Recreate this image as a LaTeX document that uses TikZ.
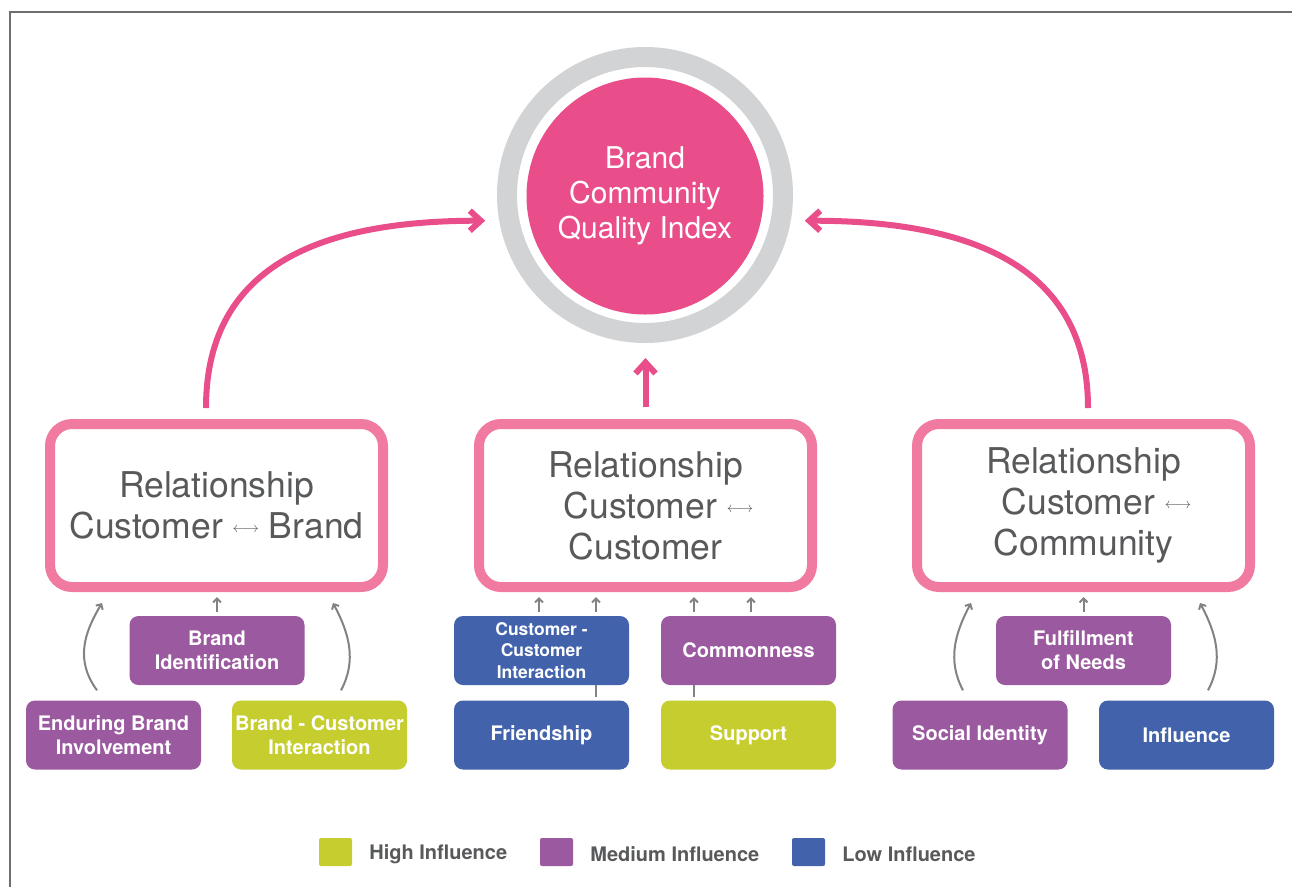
\documentclass[tikz,border=0pt]{standalone}
\usepackage{fontspec}
\setmainfont{TeX Gyre Heros}
\usepackage{tikz}
\usetikzlibrary{shapes,arrows,arrows.meta,positioning,calc}
\usepackage{xcolor}
\definecolor{bcpink}{HTML}{E94E8B}
\definecolor{boxpink}{HTML}{F07AA0}
\definecolor{ringgray}{HTML}{D1D3D4}
\definecolor{txtgray}{HTML}{58595B}
\definecolor{arrgray}{HTML}{808285}
\definecolor{framegray}{HTML}{6D6E70}
\definecolor{highc}{HTML}{C6CD2E}
\definecolor{medc}{HTML}{9B59A0}
\definecolor{lowc}{HTML}{4263AB}

\tikzset{
  relbox/.style={draw=boxpink, line width=10pt, rounded corners=22pt, minimum width=333pt,
    minimum height=163pt, align=center, text=txtgray, font=\fontsize{35.5}{41}\selectfont},
  factor/.style={rounded corners=9pt, minimum width=175pt, minimum height=69pt, inner sep=2pt,
    align=center, text=white, font=\fontsize{20}{24}\selectfont\bfseries},
  bigarrow/.style={bcpink, line width=6pt, -{Straight Barb[length=11pt,width=20pt]}},
  smallarrow/.style={arrgray, line width=2pt, -{Straight Barb[length=4pt,width=8pt]}},
  legbox/.style={rounded corners=2pt, minimum width=33pt, minimum height=28pt, inner sep=0pt},
  legtext/.style={text=txtgray, font=\fontsize{20}{22}\selectfont\bfseries, inner sep=0pt}
}
\newcommand{\relarrow}{\raisebox{6pt}{\fontsize{15}{15}\selectfont$\longleftrightarrow$}}

\begin{document}
\begin{tikzpicture}[x=1pt, y=-1pt]
    \useasboundingbox (0,0) rectangle (1292,887);
    % frame
    \draw[framegray, line width=2pt] (10,887) -- (10,12) -- (1292,12);

    % quality index
    \node[circle, draw=ringgray, line width=20pt, minimum size=276pt, inner sep=0pt] (ring) at (645,195) {};
    \node[circle, fill=bcpink, minimum size=237pt, inner sep=0pt, align=center, text=white,
          font=\fontsize{30}{35}\selectfont] (bcqi) at (645,196) {Brand\\Community\\Quality Index};

    % relationships
    \node[relbox] (relB) at (216.5,505.5) {Relationship\\Customer \relarrow{} Brand};
    \node[relbox] (relC) at (645.5,505.5) {Relationship\\\hspace*{26pt}Customer \relarrow\\Customer};
    \node[relbox] (relT) at (1083.5,505.5) {Relationship\\\hspace*{26pt}Customer \relarrow\\Community};

    \draw[bigarrow, shorten >=14pt] ([xshift=-10.5pt, yshift=11pt]relB.north)
        .. controls +(0,-148) and +(-170,0) .. (ring.190);
    \draw[bigarrow, shorten >=14pt] ([xshift=4.5pt, yshift=11pt]relT.north)
        .. controls +(0,-148) and +(170,0) .. (ring.350);
    \draw[bigarrow, shorten <=12pt, shorten >=15pt] (relC.north) -- (relC.north |- ring.south);

    % brand factors
    \node[factor, fill=medc] (bi) at (217,650.5) {Brand\\Identification};
    \node[factor, fill=medc] (ebi) at (113.5,735) {Enduring Brand\\Involvement};
    \node[factor, fill=highc] (bci) at (319.5,735) {Brand - Customer\\Interaction};
    \draw[smallarrow, shorten <=4pt, shorten >=5pt] (bi.north) -- (bi.north |- relB.south);
    \draw[smallarrow] ([xshift=-16.5pt, yshift=10pt]ebi.north)
        .. controls +(-22,-30) and +(-18,30) .. ([xshift=-114.5pt, yshift=-11pt]relB.south);
    \draw[smallarrow] ([xshift=21.5pt, yshift=10pt]bci.north)
        .. controls +(16,-30) and +(16,30) .. ([xshift=116.5pt, yshift=-11pt]relB.south);

    % customer factors
    \node[factor, fill=lowc, font=\fontsize{17.5}{21.5}\selectfont\bfseries] (cci) at (541.5,650.5)
        {Customer -\\Customer\\Interaction};
    \node[factor, fill=medc] (com) at (748.5,650.5) {Commonness};
    \node[factor, fill=lowc] (fr) at (541.5,735) {Friendship};
    \node[factor, fill=highc] (sup) at (748.5,735) {Support};
    \draw[smallarrow, shorten <=4pt, shorten >=5pt] ([xshift=-2.5pt]cci.north) -- ([xshift=-2.5pt]cci.north |- relC.south);
    \draw[smallarrow, shorten <=4pt, shorten >=5pt] ([xshift=54.5pt]cci.north) -- ([xshift=54.5pt]cci.north |- relC.south);
    \draw[arrgray, line width=2pt, shorten <=3pt] ([xshift=54.5pt]fr.north) -- ([xshift=54.5pt]cci.south);
    \draw[smallarrow, shorten <=4pt, shorten >=5pt] ([xshift=-54.5pt]com.north) -- ([xshift=-54.5pt]com.north |- relC.south);
    \draw[smallarrow, shorten <=4pt, shorten >=5pt] ([xshift=2.5pt]com.north) -- ([xshift=2.5pt]com.north |- relC.south);
    \draw[arrgray, line width=2pt, shorten <=3pt] ([xshift=-54.5pt]sup.north) -- ([xshift=-54.5pt]com.south);

    % community factors
    \node[factor, fill=medc] (fon) at (1083.5,650.5) {Fulfillment\\of Needs};
    \node[factor, fill=medc] (sid) at (980,735) {Social Identity};
    \node[factor, fill=lowc] (infl) at (1186.5,735) {Influence};
    \draw[smallarrow, shorten <=4pt, shorten >=5pt] (fon.north) -- (fon.north |- relT.south);
    \draw[smallarrow] ([xshift=-17pt, yshift=10pt]sid.north)
        .. controls +(-16,-30) and +(-16,30) .. ([xshift=-112.5pt, yshift=-11pt]relT.south);
    \draw[smallarrow] ([xshift=21.5pt, yshift=10pt]infl.north)
        .. controls +(16,-30) and +(16,30) .. ([xshift=116.5pt, yshift=-11pt]relT.south);

    % legend
    \node[legbox, fill=highc] (hsq) at (335.5,852) {};
    \node[legtext, right=17pt of hsq, yshift=-2pt] (htx) {High Influence};
    \node[legbox, fill=medc] (msq) at (556.5,852) {};
    \node[legtext, right=17pt of msq, yshift=-2pt] (mtx) {Medium Influence};
    \node[legbox, fill=lowc] (lsq) at (808.5,852) {};
    \node[legtext, right=17pt of lsq, yshift=-2pt] (ltx) {Low Influence};
\end{tikzpicture}
\end{document}
